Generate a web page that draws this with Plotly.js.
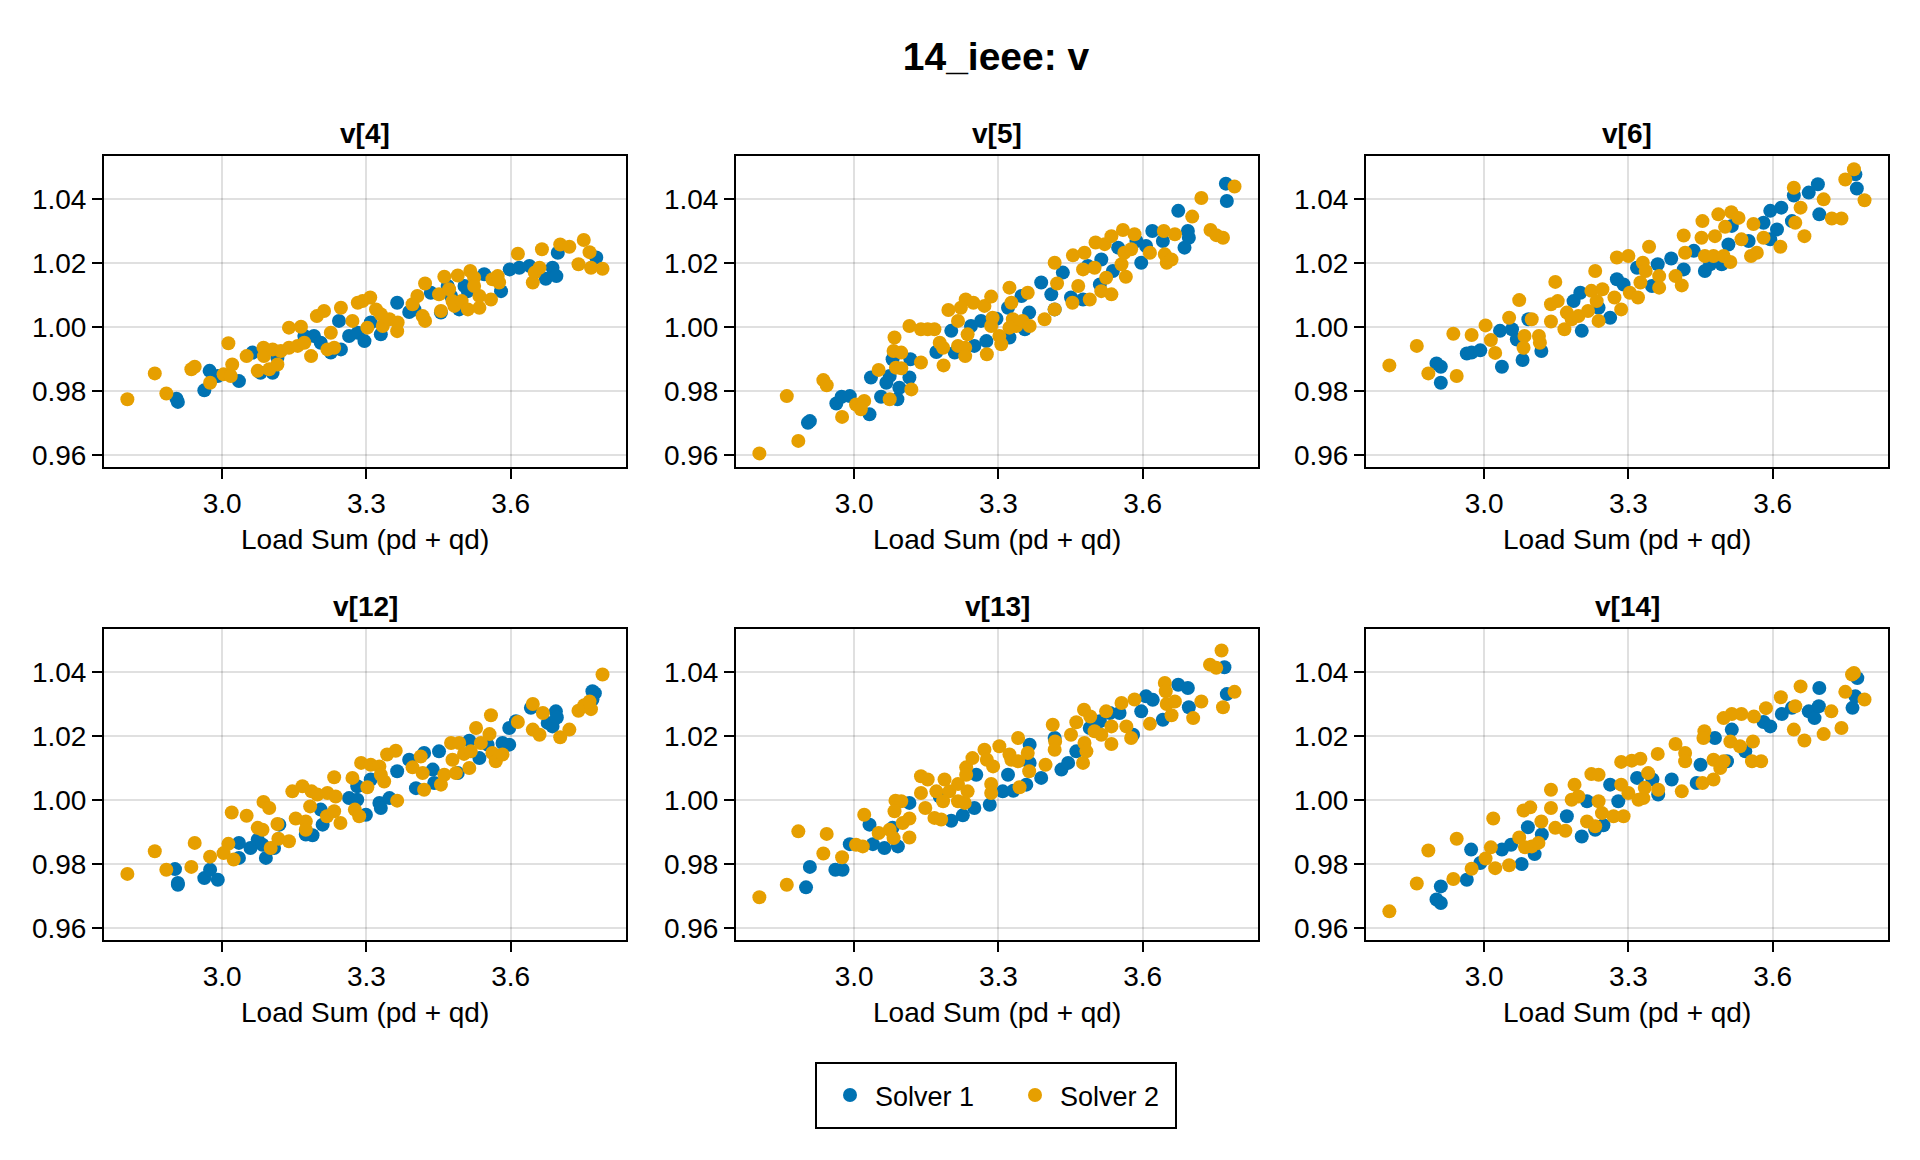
<!DOCTYPE html>
<html>
<head>
<meta charset="utf-8">
<script src="https://cdn.plot.ly/plotly-3.0.1.min.js"></script>
<style>html,body{margin:0;padding:0;background:#fff;}#chart{width:1920px;height:1160px;}</style>
</head>
<body>
<div id="chart"></div>
<script>
// ---------------- data (x = load sum, y = voltage) ----------------
const seriesNames = ["Solver 1", "Solver 2"];
const panelTitles = ["v[4]", "v[5]", "v[6]", "v[12]", "v[13]", "v[14]"];
const xTickVals = [3.0, 3.3, 3.6];
const xTickText = ["3.0", "3.3", "3.6"];
const yTickVals = [0.96, 0.98, 1.00, 1.02, 1.04];
const yTickText = ["0.96", "0.98", "1.00", "1.02", "1.04"];

const v4_solver1 = [[2.908,0.9766],[2.905,0.9776],[2.963,0.9802],[2.974,0.9863],[2.991,0.9847],[3.035,0.9831],[3.063,0.9920],[3.105,0.9857],[3.115,0.9904],[3.080,0.9857],[3.171,0.9972],[3.191,0.9972],[3.205,0.9951],[3.226,0.9920],[3.247,0.9930],[3.243,1.0019],[3.264,0.9972],[3.282,0.9982],[3.296,0.9956],[3.309,1.0014],[3.330,0.9977],[3.364,1.0076],[3.389,1.0047],[3.434,1.0107],[3.455,1.0045],[3.469,1.0128],[3.493,1.0055],[3.504,1.0128],[3.511,1.0112],[3.545,1.0165],[3.580,1.0112],[3.598,1.0180],[3.618,1.0185],[3.639,1.0191],[3.673,1.0151],[3.687,1.0185],[3.695,1.0159],[3.698,1.0232],[3.778,1.0217],[3.476,1.0097],[3.400,1.0055]];
const v4_solver2 = [[2.803,0.9774],[2.860,0.9855],[2.884,0.9792],[2.936,0.9868],[2.943,0.9876],[2.975,0.9826],[3.013,0.9949],[3.003,0.9852],[3.021,0.9883],[3.018,0.9847],[3.051,0.9909],[3.074,0.9863],[3.086,0.9935],[3.087,0.9909],[3.098,0.9868],[3.115,0.9883],[3.105,0.9930],[3.122,0.9925],[3.139,0.9998],[3.139,0.9935],[3.164,1.0001],[3.157,0.9941],[3.171,0.9951],[3.185,0.9909],[3.197,1.0034],[3.212,1.0050],[3.226,0.9982],[3.219,0.9930],[3.233,0.9935],[3.247,1.0060],[3.271,1.0019],[3.282,1.0076],[3.292,1.0081],[3.308,1.0092],[3.302,0.9998],[3.320,1.0055],[3.330,1.0040],[3.334,1.0003],[3.348,1.0024],[3.364,0.9987],[3.365,1.0014],[3.396,1.0071],[3.406,1.0097],[3.422,1.0136],[3.417,1.0034],[3.422,1.0019],[3.451,1.0102],[3.455,1.0050],[3.462,1.0157],[3.472,1.0118],[3.479,1.0081],[3.483,1.0066],[3.490,1.0161],[3.498,1.0081],[3.511,1.0055],[3.516,1.0175],[3.524,1.0154],[3.535,1.0060],[3.535,1.0097],[3.559,1.0086],[3.562,1.0149],[3.576,1.0139],[3.615,1.0229],[3.646,1.0139],[3.650,1.0170],[3.660,1.0185],[3.665,1.0243],[3.703,1.0258],[3.722,1.0251],[3.752,1.0272],[3.764,1.0234],[3.741,1.0196],[3.767,1.0185],[3.791,1.0182],[3.524,1.0128],[3.573,1.0159]];

const v5_solver1 = [[2.904,0.9701],[2.908,0.9706],[2.963,0.9761],[2.974,0.9782],[2.991,0.9784],[3.035,0.9842],[3.032,0.9727],[3.056,0.9782],[3.074,0.9847],[3.067,0.9826],[3.080,0.9899],[3.090,0.9774],[3.094,0.9810],[3.115,0.9842],[3.117,0.9899],[3.171,0.9922],[3.202,0.9988],[3.209,0.9920],[3.250,0.9941],[3.243,1.0003],[3.264,1.0019],[3.275,0.9956],[3.296,1.0026],[3.320,1.0060],[3.323,0.9967],[3.348,1.0097],[3.364,1.0045],[3.355,0.9993],[3.389,1.0139],[3.410,1.0102],[3.417,1.0055],[3.434,1.0170],[3.451,1.0092],[3.476,1.0086],[3.486,1.0191],[3.511,1.0133],[3.514,1.0211],[3.538,1.0175],[3.549,1.0248],[3.587,1.0269],[3.597,1.0201],[3.607,1.0253],[3.620,1.0300],[3.642,1.0269],[3.674,1.0363],[3.687,1.0248],[3.694,1.0300],[3.696,1.0279],[3.773,1.0448],[3.775,1.0394]];
const v5_solver2 = [[2.803,0.9605],[2.884,0.9644],[2.860,0.9784],[2.936,0.9834],[2.943,0.9818],[2.975,0.9719],[3.004,0.9758],[3.021,0.9769],[3.014,0.9743],[3.051,0.9866],[3.074,0.9774],[3.084,0.9967],[3.082,0.9925],[3.098,0.9920],[3.087,0.9873],[3.098,0.9871],[3.119,0.9805],[3.115,1.0003],[3.139,0.9889],[3.139,0.9993],[3.153,0.9993],[3.167,0.9993],[3.178,0.9951],[3.185,0.9935],[3.186,0.9880],[3.196,1.0053],[3.216,1.0019],[3.216,0.9941],[3.231,0.9935],[3.231,0.9909],[3.236,0.9977],[3.232,1.0086],[3.248,1.0076],[3.222,1.0060],[3.271,1.0066],[3.285,1.0095],[3.276,0.9915],[3.288,1.0029],[3.285,1.0003],[3.306,0.9946],[3.302,0.9972],[3.323,1.0123],[3.327,1.0076],[3.330,1.0024],[3.337,1.0003],[3.323,0.9998],[3.350,1.0019],[3.365,1.0003],[3.361,1.0107],[3.396,1.0024],[3.417,1.0055],[3.422,1.0136],[3.417,1.0201],[3.455,1.0224],[3.454,1.0076],[3.466,1.0128],[3.479,1.0232],[3.476,1.0180],[3.490,1.0086],[3.500,1.0185],[3.502,1.0264],[3.514,1.0112],[3.524,1.0154],[3.521,1.0259],[3.535,1.0102],[3.535,1.0284],[3.556,1.0196],[3.559,1.0303],[3.565,1.0157],[3.562,1.0232],[3.576,1.0243],[3.583,1.0290],[3.615,1.0232],[3.644,1.0300],[3.646,1.0227],[3.650,1.0201],[3.660,1.0211],[3.667,1.0290],[3.703,1.0345],[3.722,1.0403],[3.741,1.0303],[3.753,1.0287],[3.767,1.0279],[3.791,1.0439]];

const v6_solver1 = [[2.901,0.9886],[2.910,0.9876],[2.910,0.9826],[2.964,0.9917],[2.974,0.9920],[2.992,0.9927],[3.033,0.9988],[3.037,0.9876],[3.058,0.9993],[3.068,0.9961],[3.080,0.9897],[3.092,1.0024],[3.119,0.9925],[3.186,1.0081],[3.200,1.0107],[3.203,0.9988],[3.238,1.0060],[3.262,1.0029],[3.276,1.0149],[3.290,1.0133],[3.318,1.0185],[3.349,1.0128],[3.361,1.0196],[3.389,1.0214],[3.415,1.0180],[3.436,1.0238],[3.459,1.0175],[3.470,1.0196],[3.494,1.0196],[3.508,1.0258],[3.515,1.0316],[3.550,1.0269],[3.581,1.0326],[3.595,1.0363],[3.609,1.0305],[3.618,1.0373],[3.640,1.0331],[3.644,1.0411],[3.675,1.0420],[3.694,1.0446],[3.697,1.0352],[3.772,1.0477],[3.775,1.0433],[3.595,1.0274]];
const v6_solver2 = [[2.803,0.9880],[2.860,0.9941],[2.884,0.9855],[2.936,0.9979],[2.943,0.9847],[2.974,0.9975],[3.003,1.0005],[3.014,0.9959],[3.023,0.9919],[3.052,1.0029],[3.073,1.0084],[3.084,0.9972],[3.082,0.9935],[3.099,1.0024],[3.114,0.9972],[3.116,0.9951],[3.139,1.0017],[3.139,1.0071],[3.148,1.0141],[3.153,1.0081],[3.167,0.9993],[3.172,1.0045],[3.182,1.0024],[3.196,1.0034],[3.216,1.0050],[3.223,1.0113],[3.231,1.0175],[3.234,1.0081],[3.238,1.0019],[3.246,1.0118],[3.271,1.0092],[3.285,1.0055],[3.276,1.0217],[3.300,1.0222],[3.303,1.0107],[3.320,1.0092],[3.325,1.0139],[3.330,1.0201],[3.343,1.0251],[3.336,1.0175],[3.364,1.0159],[3.364,1.0123],[3.398,1.0159],[3.411,1.0130],[3.415,1.0286],[3.418,1.0232],[3.454,1.0331],[3.452,1.0279],[3.459,1.0222],[3.477,1.0222],[3.480,1.0284],[3.487,1.0352],[3.501,1.0313],[3.498,1.0222],[3.514,1.0359],[3.512,1.0203],[3.529,1.0341],[3.535,1.0274],[3.555,1.0222],[3.560,1.0322],[3.567,1.0232],[3.581,1.0279],[3.616,1.0251],[3.647,1.0326],[3.644,1.0435],[3.658,1.0373],[3.666,1.0284],[3.706,1.0399],[3.723,1.0339],[3.743,1.0339],[3.751,1.0461],[3.769,1.0493],[3.791,1.0396]];

const v12_solver1 = [[2.902,0.9784],[2.908,0.9741],[2.908,0.9735],[2.963,0.9756],[2.975,0.9782],[2.991,0.9751],[3.035,0.9866],[3.035,0.9819],[3.059,0.9850],[3.074,0.9876],[3.084,0.9860],[3.091,0.9819],[3.108,0.9850],[3.119,0.9923],[3.174,0.9892],[3.188,0.9890],[3.209,0.9923],[3.205,0.9970],[3.264,1.0006],[3.281,1.0001],[3.299,0.9954],[3.281,1.0043],[3.309,1.0064],[3.327,0.9991],[3.330,0.9975],[3.348,1.0006],[3.364,1.0090],[3.389,1.0126],[3.403,1.0037],[3.420,1.0147],[3.438,1.0095],[3.441,1.0053],[3.451,1.0152],[3.490,1.0084],[3.514,1.0185],[3.535,1.0131],[3.552,1.0173],[3.583,1.0178],[3.597,1.0173],[3.597,1.0225],[3.611,1.0246],[3.642,1.0288],[3.677,1.0241],[3.687,1.0230],[3.694,1.0277],[3.696,1.0258],[3.770,1.0340],[3.775,1.0334],[3.770,1.0314]];
const v12_solver2 = [[2.803,0.9769],[2.860,0.9840],[2.884,0.9782],[2.936,0.9791],[2.943,0.9866],[2.975,0.9823],[3.003,0.9834],[3.013,0.9863],[3.020,0.9961],[3.024,0.9814],[3.051,0.9951],[3.074,0.9913],[3.084,0.9907],[3.086,0.9994],[3.098,0.9975],[3.101,0.9850],[3.115,0.9925],[3.117,0.9879],[3.139,0.9871],[3.146,1.0027],[3.167,1.0043],[3.153,0.9942],[3.174,0.9933],[3.174,0.9907],[3.186,1.0027],[3.183,0.9980],[3.198,1.0017],[3.219,1.0022],[3.236,1.0011],[3.218,0.9949],[3.233,1.0071],[3.233,0.9965],[3.246,0.9928],[3.271,1.0069],[3.276,0.9970],[3.285,0.9949],[3.289,1.0116],[3.309,1.0110],[3.302,1.0040],[3.327,1.0105],[3.330,1.0079],[3.337,1.0058],[3.343,1.0142],[3.361,1.0154],[3.364,0.9998],[3.396,1.0102],[3.413,1.0136],[3.420,1.0032],[3.417,1.0084],[3.455,1.0048],[3.462,1.0079],[3.476,1.0178],[3.479,1.0126],[3.486,1.0084],[3.493,1.0178],[3.503,1.0144],[3.514,1.0100],[3.517,1.0152],[3.528,1.0225],[3.538,1.0178],[3.556,1.0206],[3.559,1.0265],[3.562,1.0147],[3.569,1.0121],[3.583,1.0142],[3.615,1.0244],[3.646,1.0300],[3.646,1.0220],[3.660,1.0204],[3.667,1.0272],[3.703,1.0196],[3.722,1.0220],[3.741,1.0279],[3.753,1.0296],[3.767,1.0284],[3.764,1.0308],[3.791,1.0392]];

const v13_solver1 = [[2.900,0.9727],[2.908,0.9791],[2.961,0.9782],[2.976,0.9782],[2.991,0.9862],[3.032,0.9923],[3.039,0.9862],[3.063,0.9850],[3.091,0.9855],[3.080,0.9913],[3.115,0.9991],[3.178,1.0011],[3.202,0.9935],[3.226,0.9952],[3.250,0.9975],[3.254,1.0079],[3.282,0.9985],[3.309,1.0027],[3.320,1.0079],[3.331,1.0029],[3.358,1.0048],[3.365,1.0173],[3.365,1.0116],[3.389,1.0069],[3.417,1.0194],[3.431,1.0095],[3.445,1.0116],[3.462,1.0152],[3.490,1.0225],[3.511,1.0246],[3.532,1.0272],[3.552,1.0272],[3.580,1.0204],[3.597,1.0277],[3.607,1.0324],[3.621,1.0313],[3.642,1.0251],[3.674,1.0360],[3.694,1.0350],[3.696,1.0290],[3.770,1.0415],[3.775,1.0331]];
const v13_solver2 = [[2.803,0.9696],[2.860,0.9735],[2.884,0.9902],[2.936,0.9833],[2.943,0.9894],[2.975,0.9821],[3.004,0.9860],[3.018,0.9855],[3.021,0.9954],[3.051,0.9897],[3.074,0.9907],[3.082,0.9881],[3.086,0.9998],[3.098,0.9996],[3.084,0.9965],[3.101,0.9928],[3.115,0.9942],[3.115,0.9883],[3.139,1.0074],[3.153,1.0064],[3.139,1.0022],[3.148,0.9975],[3.167,0.9944],[3.181,0.9939],[3.171,1.0027],[3.185,0.9996],[3.188,1.0064],[3.198,1.0027],[3.216,1.0050],[3.216,0.9996],[3.230,0.9991],[3.233,1.0102],[3.233,1.0079],[3.236,1.0027],[3.246,1.0131],[3.271,1.0157],[3.276,1.0126],[3.285,1.0050],[3.285,1.0022],[3.289,1.0105],[3.302,1.0168],[3.323,1.0142],[3.327,1.0126],[3.341,1.0194],[3.341,1.0121],[3.344,1.0040],[3.361,1.0147],[3.364,1.0090],[3.398,1.0110],[3.413,1.0235],[3.418,1.0183],[3.417,1.0157],[3.451,1.0204],[3.462,1.0243],[3.476,1.0116],[3.478,1.0282],[3.479,1.0178],[3.483,1.0152],[3.491,1.0261],[3.500,1.0215],[3.514,1.0204],[3.524,1.0277],[3.535,1.0230],[3.535,1.0175],[3.556,1.0303],[3.566,1.0230],[3.576,1.0194],[3.583,1.0314],[3.615,1.0238],[3.646,1.0366],[3.648,1.0340],[3.650,1.0300],[3.660,1.0265],[3.667,1.0308],[3.705,1.0256],[3.722,1.0308],[3.740,1.0423],[3.753,1.0413],[3.764,1.0467],[3.767,1.0290],[3.791,1.0338]];

const v14_solver1 = [[2.901,0.9689],[2.910,0.9678],[2.910,0.9730],[2.964,0.9751],[2.973,0.9845],[2.992,0.9803],[3.037,0.9845],[3.056,0.9860],[3.078,0.9800],[3.091,0.9915],[3.105,0.9831],[3.120,0.9892],[3.172,0.9949],[3.203,0.9886],[3.214,0.9996],[3.231,0.9907],[3.248,0.9921],[3.262,1.0048],[3.279,0.9996],[3.318,1.0069],[3.350,1.0064],[3.362,1.0017],[3.390,1.0064],[3.442,1.0053],[3.450,1.0110],[3.480,1.0194],[3.505,1.0121],[3.515,1.0220],[3.543,1.0152],[3.581,1.0244],[3.595,1.0230],[3.619,1.0269],[3.640,1.0288],[3.675,1.0277],[3.687,1.0256],[3.696,1.0293],[3.697,1.0350],[3.776,1.0381],[3.766,1.0288],[3.772,1.0324]];
const v14_solver2 = [[2.803,0.9652],[2.860,0.9739],[2.884,0.9842],[2.936,0.9753],[2.943,0.9879],[2.974,0.9785],[3.003,0.9817],[3.014,0.9852],[3.019,0.9942],[3.023,0.9787],[3.052,0.9796],[3.073,0.9883],[3.082,0.9967],[3.096,0.9977],[3.085,0.9852],[3.099,0.9855],[3.113,0.9866],[3.119,0.9933],[3.139,1.0032],[3.139,0.9975],[3.148,0.9913],[3.169,0.9904],[3.182,1.0001],[3.188,1.0048],[3.196,1.0011],[3.214,0.9933],[3.231,0.9918],[3.223,1.0081],[3.238,1.0079],[3.238,0.9996],[3.245,0.9959],[3.269,0.9949],[3.290,0.9949],[3.285,1.0048],[3.285,1.0119],[3.307,1.0123],[3.325,1.0129],[3.300,1.0022],[3.321,1.0001],[3.331,1.0006],[3.334,1.0038],[3.341,1.0084],[3.361,1.0144],[3.362,1.0032],[3.398,1.0175],[3.411,1.0027],[3.418,1.0147],[3.418,1.0121],[3.454,1.0053],[3.458,1.0215],[3.456,1.0194],[3.477,1.0064],[3.477,1.0126],[3.491,1.0100],[3.498,1.0121],[3.498,1.0256],[3.515,1.0269],[3.535,1.0269],[3.512,1.0183],[3.532,1.0168],[3.557,1.0121],[3.559,1.0183],[3.561,1.0261],[3.576,1.0121],[3.586,1.0287],[3.617,1.0321],[3.644,1.0220],[3.647,1.0293],[3.658,1.0355],[3.666,1.0186],[3.706,1.0206],[3.722,1.0277],[3.743,1.0225],[3.751,1.0338],[3.765,1.0392],[3.769,1.0397],[3.791,1.0314]];

const panelData = [
  [v4_solver1, v4_solver2], [v5_solver1, v5_solver2], [v6_solver1, v6_solver2],
  [v12_solver1, v12_solver2], [v13_solver1, v13_solver2], [v14_solver1, v14_solver2]
];

// ---------------- styling / layout ----------------
const W = 1920, H = 1160;
const FONT = "Liberation Sans, Arial, Helvetica, sans-serif";
const colors = ["#0072B2", "#E69F00"];
const colPx = [[104, 626], [736, 1258], [1366, 1888]];
const rowPx = [[156, 467], [629, 940]];
const xRange = [2.7544, 3.8398];
const yRange = [0.95625, 1.05344];

const traces = [];
const layout = {
  width: W, height: H, autosize: false,
  margin: {l: 0, r: 0, t: 0, b: 0},
  paper_bgcolor: "#ffffff", plot_bgcolor: "#ffffff",
  font: {family: FONT, size: 28, color: "#000000"},
  showlegend: true,
  title: {text: "<b>14_ieee: v</b>", font: {family: FONT, size: 39, color: "#000"},
          x: 996 / W, xref: "paper", xanchor: "center",
          y: 1 - 56.5 / H, yref: "container", yanchor: "middle"},
  legend: {orientation: "h", x: 825 / W, xanchor: "left", y: 1 - 1095.5 / H, yanchor: "middle",
           font: {family: FONT, size: 27, color: "#000"}, bgcolor: "rgba(0,0,0,0)", borderwidth: 0,
           entrywidth: 130, entrywidthmode: "pixels", itemwidth: 40},
  annotations: [],
  shapes: [{type: "rect", xref: "paper", yref: "paper",
            x0: 816 / W, x1: 1176 / W, y0: 1 - 1128 / H, y1: 1 - 1063 / H,
            line: {color: "#000", width: 2}, fillcolor: "rgba(0,0,0,0)"}]
};

panelData.forEach((pair, i) => {
  const r = Math.floor(i / 3), c = i % 3;
  const sfx = i === 0 ? "" : String(i + 1);
  const xa = "x" + sfx, ya = "y" + sfx;
  pair.forEach((pts, s) => {
    traces.push({
      type: "scatter", mode: "markers", name: seriesNames[s],
      x: pts.map(p => p[0]), y: pts.map(p => p[1]),
      xaxis: xa, yaxis: ya, showlegend: i === 0, legendgroup: seriesNames[s],
      marker: {color: colors[s], size: 14, line: {width: 0}},
      hoverinfo: "x+y"
    });
  });
  const common = {
    showline: true, mirror: true, linecolor: "#000", linewidth: 2,
    ticks: "outside", ticklen: 10, tickwidth: 2, tickcolor: "#000",
    showgrid: true, gridcolor: "rgba(0,0,0,0.12)", gridwidth: 2,
    zeroline: false, fixedrange: true,
    tickfont: {family: FONT, size: 28, color: "#000"}
  };
  layout["xaxis" + sfx] = Object.assign({}, common, {
    domain: [colPx[c][0] / W, colPx[c][1] / W], anchor: ya, range: xRange,
    tickmode: "array", tickvals: xTickVals, ticktext: xTickText, ticklabelstandoff: 0
  });
  layout["yaxis" + sfx] = Object.assign({}, common, {
    domain: [1 - rowPx[r][1] / H, 1 - rowPx[r][0] / H], anchor: xa, range: yRange,
    tickmode: "array", tickvals: yTickVals, ticktext: yTickText, ticklabelstandoff: 0
  });
  const cx = (colPx[c][0] + colPx[c][1]) / 2 / W;
  layout.annotations.push({
    text: "<b>" + panelTitles[i] + "</b>", xref: "paper", yref: "paper",
    x: cx, y: 1 - (rowPx[r][0] - 13 - 9.8) / H, xanchor: "center", yanchor: "middle",
    showarrow: false, font: {family: FONT, size: 28, color: "#000"}
  });
  layout.annotations.push({
    text: "Load Sum (pd + qd)", xref: "paper", yref: "paper",
    x: cx, y: 1 - (rowPx[r][1] + 82 - 9.8) / H, xanchor: "center", yanchor: "middle",
    showarrow: false, font: {family: FONT, size: 28, color: "#000"}
  });
});

Plotly.newPlot("chart", traces, layout, {displayModeBar: false, staticPlot: true});
</script>
</body>
</html>
